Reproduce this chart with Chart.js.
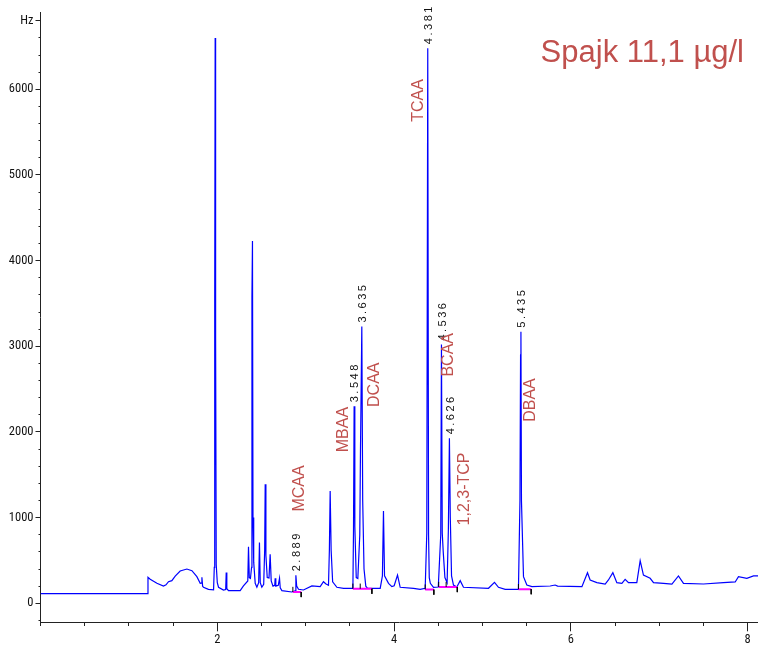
<!DOCTYPE html>
<html>
<head>
<meta charset="utf-8">
<title>Spajk 11,1 µg/l</title>
<script src="https://cdn.jsdelivr.net/npm/chart.js@4.4.1/dist/chart.umd.min.js"></script>
<style>
  html, body { margin: 0; padding: 0; background: #fff; }
  #wrap { position: relative; width: 758px; height: 647px; }
</style>
</head>
<body>
<div id="wrap"><canvas id="myChart"></canvas></div>
<script>
//chromatogram: time (min) and signal (Hz)
const times = [
  0.00, 1.214, 1.216, 1.241, 1.317, 1.391, 1.420, 1.448, 1.486, 1.524, 1.580, 1.656, 1.713, 1.769, 1.807, 1.818, 1.826, 1.834, 1.844, 1.900,
  1.958, 1.966, 1.971, 1.976, 1.981, 1.988, 2.000, 2.014, 2.070, 2.095, 2.101, 2.108, 2.127, 2.259, 2.296, 2.345, 2.353, 2.362, 2.375, 2.388,
  2.392, 2.398, 2.404, 2.412, 2.429, 2.448, 2.468, 2.477, 2.486, 2.504, 2.525, 2.536, 2.542, 2.550, 2.565, 2.585, 2.598, 2.610, 2.630, 2.650,
  2.655, 2.662, 2.690, 2.704, 2.712, 2.731, 2.844, 2.880, 2.889, 2.898, 2.919, 2.975, 3.070, 3.164, 3.201, 3.230, 3.258, 3.268, 3.277, 3.288,
  3.305, 3.353, 3.428, 3.534, 3.541, 3.548, 3.556, 3.572, 3.590, 3.612, 3.620, 3.635, 3.645, 3.660, 3.680, 3.700, 3.843, 3.868, 3.880, 3.892,
  3.937, 3.975, 4.001, 4.039, 4.069, 4.220, 4.295, 4.352, 4.370, 4.381, 4.390, 4.398, 4.410, 4.446, 4.500, 4.528, 4.536, 4.545, 4.556, 4.575,
  4.600, 4.614, 4.626, 4.636, 4.650, 4.672, 4.710, 4.748, 4.785, 5.068, 5.136, 5.181, 5.257, 5.407, 5.424, 5.431, 5.435, 5.441, 5.464, 5.502,
  5.559, 5.766, 5.822, 5.850, 6.125, 6.188, 6.218, 6.294, 6.388, 6.425, 6.475, 6.520, 6.577, 6.614, 6.652, 6.746, 6.784, 6.821, 6.897, 6.935,
  7.048, 7.143, 7.217, 7.274, 7.500, 7.726, 7.859, 7.896, 7.991, 8.066, 8.120
];
const signal = [
  112, 112, 303, 280, 233, 202, 215, 252, 264, 318, 377, 400, 381, 311, 233, 235, 303, 200, 187, 163,
  158, 420, 3540, 6600, 3100, 450, 240, 187, 155, 160, 360, 170, 148, 148, 202, 260, 660, 300, 290, 420,
  3580, 4230, 1000, 480, 233, 187, 240, 710, 240, 187, 220, 620, 1390, 560, 300, 295, 572, 260, 200, 210,
  292, 200, 210, 292, 180, 148, 132, 145, 327, 200, 163, 155, 202, 194, 252, 225, 210, 620, 1310, 620,
  250, 187, 175, 175, 850, 2300, 900, 300, 290, 800, 1800, 3230, 1200, 400, 200, 175, 175, 320, 1077, 320,
  233, 194, 205, 330, 187, 175, 163, 175, 820, 6480, 800, 300, 233, 187, 190, 800, 3020, 820, 600, 300,
  240, 850, 1925, 1000, 320, 213, 190, 264, 187, 175, 245, 187, 163, 163, 1200, 2900, 3170, 1200, 311, 213,
  194, 202, 213, 200, 194, 357, 272, 241, 225, 272, 357, 241, 233, 280, 241, 241, 497, 330, 292, 241,
  233, 225, 319, 233, 225, 241, 249, 311, 292, 319, 319
];

//retention times printed over the integrated peaks
const peakTimes = [2.889, 3.548, 3.635, 4.381, 4.536, 4.626, 5.435];
const peakHeights = [327, 2300, 3230, 6480, 3020, 1925, 3170];
const peakTexts = ["2.889", "3.548", "3.635", "4.381", "4.536", "4.626", "5.435"];

//compound names
const compounds = ["MCAA", "MBAA", "DCAA", "TCAA", "BCAA", "1,2,3-TCP", "DBAA"];
const compoundTimes = [2.926, 3.432, 3.783, 4.281, 4.612, 4.801, 5.540];
const compoundLevels = [1340, 2028, 2551, 5870, 2901, 1334, 2373];

//integration baselines
const baseStart = [2.855, 3.534, 4.352, 4.505, 5.407];
const baseEnd = [2.949, 3.749, 4.450, 4.715, 5.551];
const baseLevel = [132, 170, 160, 190, 165];
const splitTimes = [3.617, 4.589];
const splitLevels = [170, 190];

//axis labels
const xLabels = [2, 4, 6, 8];
const yLabelStep = 1000;
const yUnitAt = 6800;
const sampleTitle = "Spajk 11,1 µg/l";

const red = "#c0504d";
const narrow = "'Roboto Condensed', 'Liberation Sans', sans-serif";

//build line pieces, separated by gaps
function segments(list) {
  let out = [];
  for (let seg of list) {
    out.push({ x: seg[0], y: seg[1] }, { x: seg[2], y: seg[3] }, { x: seg[2], y: null });
  }
  return out;
}

let trace = times.map((t, i) => ({ x: t, y: signal[i] }));
let baselines = segments(baseStart.map((s, i) => [s, baseLevel[i], baseEnd[i], baseLevel[i]]));
let cuts = [];
baseStart.forEach((s, i) => cuts.push([s, baseLevel[i], s, baseLevel[i] + 60]));
splitTimes.forEach((s, i) => cuts.push([s, splitLevels[i], s, splitLevels[i] + 60]));
baseEnd.forEach((s, i) => cuts.push([s, baseLevel[i], s, baseLevel[i] - 60]));
let cutMarks = segments(cuts);

//texts on the chart
const textPlugin = {
  id: "peakText",
  afterDatasetsDraw(chart) {
    let ctx = chart.ctx;
    let xs = chart.scales.x;
    let ys = chart.scales.y;
    ctx.save();
    //retention times
    ctx.fillStyle = "#111";
    ctx.font = "11px 'Liberation Sans', Arial, sans-serif";
    ctx.letterSpacing = "2.5px";
    ctx.textAlign = "left";
    ctx.textBaseline = "middle";
    for (let i = 0; i < peakTimes.length; i++) {
      ctx.save();
      ctx.translate(xs.getPixelForValue(peakTimes[i]) + 1.2, ys.getPixelForValue(peakHeights[i]) - 4);
      ctx.rotate(-Math.PI / 2);
      ctx.fillText(peakTexts[i], 0, 0);
      ctx.restore();
    }
    //compound names
    ctx.letterSpacing = "0px";
    ctx.fillStyle = red;
    ctx.font = "16px 'Liberation Sans', Arial, sans-serif";
    ctx.textAlign = "center";
    for (let i = 0; i < compounds.length; i++) {
      ctx.save();
      ctx.translate(xs.getPixelForValue(compoundTimes[i]), ys.getPixelForValue(compoundLevels[i]));
      ctx.rotate(-Math.PI / 2);
      ctx.fillText(compounds[i], 0, 0);
      ctx.restore();
    }
    //sample title
    ctx.font = "31px 'Liberation Sans', Arial, sans-serif";
    ctx.textAlign = "right";
    ctx.textBaseline = "alphabetic";
    ctx.fillText(sampleTitle, chart.chartArea.right - 14, chart.chartArea.top + 49);
    ctx.restore();
  }
};

let chart = new Chart(document.getElementById("myChart").getContext("2d"), {
  type: "line",
  data: {
    datasets: [
      { data: cutMarks, borderColor: "#000", borderWidth: 1, pointRadius: 0, spanGaps: false },
      { data: baselines, borderColor: "#ff00ff", borderWidth: 2, pointRadius: 0, spanGaps: false },
      { data: trace, borderColor: "#0000ff", borderWidth: 1.2, pointRadius: 0, tension: 0 }
    ]
  },
  options: {
    animation: false,
    responsive: true,
    maintainAspectRatio: false,
    layout: { padding: { top: 12.7, right: 0, left: 0, bottom: 0 } },
    plugins: { legend: { display: false }, tooltip: { enabled: false } },
    scales: {
      x: {
        type: "linear",
        min: 0,
        max: 8.117,
        afterFit: s => { s.height = 24.7; },
        border: { color: "#222", width: 1 },
        grid: {
          drawOnChartArea: false,
          tickLength: 9,
          tickColor: "#222",
          tickBorderDash: c => (xLabels.includes(c.tick.value) ? [] : [3, 20])
        },
        ticks: {
          stepSize: 0.5,
          autoSkip: false,
          includeBounds: false,
          maxRotation: 0,
          padding: 1,
          color: "#111",
          font: { family: narrow, size: 12.5 },
          callback: v => (xLabels.includes(v) ? String(v) : "")
        }
      },
      y: {
        type: "linear",
        min: -222,
        max: 6894,
        afterFit: s => { s.width = 40.5; },
        border: { color: "#222", width: 1 },
        grid: {
          drawOnChartArea: false,
          tickLength: 5,
          tickColor: "#222",
          tickBorderDash: c => (c.tick.value % yLabelStep === 0 || c.tick.value === yUnitAt ? [] : [0, 3, 2, 10])
        },
        ticks: {
          stepSize: 200,
          autoSkip: false,
          includeBounds: false,
          padding: 2,
          color: "#111",
          font: { family: narrow, size: 12.5 },
          callback: v => (v === yUnitAt ? "Hz" : (v >= 0 && v % yLabelStep === 0 ? String(v) : ""))
        }
      }
    }
  },
  plugins: [textPlugin]
});
</script>
</body>
</html>
